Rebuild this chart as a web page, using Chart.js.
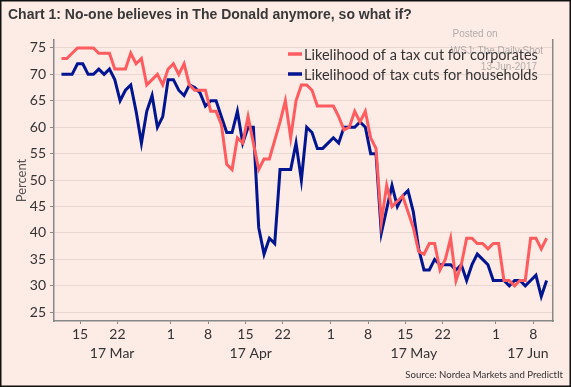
<!DOCTYPE html>
<html>
<head>
<meta charset="utf-8">
<script src="https://cdn.jsdelivr.net/npm/chart.js@4.4.0/dist/chart.umd.min.js"></script>
<style>
  html, body { margin: 0; padding: 0; background: #fdebe6; }
</style>
</head>
<body>
<canvas id="myChart" width="571" height="387"></canvas>
<script>
// daily PredictIt odds, 11 Mar 2017 .. 10 Jun 2017 (day 0 = 1 Mar)
const firstDay = 10;
const corporates = [
  73, 73, 74, 75, 75, 75, 75, 74, 74, 74,
  71, 71, 71, 74, 72, 73, 68, 69, 70, 68,
  71, 72, 70, 72, 68, 67, 67, 67, 63, 63,
  60.5, 53, 52, 58, 57, 62, 57, 52, 54, 54,
  57.5, 61, 65, 58, 65, 68, 68, 67, 64, 64,
  64, 64, 62, 59.5, 60, 63, 61, 63, 58, 56,
  42, 49, 45, 46, 47, 44, 41, 36.5, 36, 38,
  38, 33, 35, 39, 31, 34, 39, 39, 38, 38,
  37, 38, 38, 31, 31, 30, 31, 31, 39, 39,
  37, 39
];
const households = [
  70, 70, 70, 72, 72, 70, 70, 71, 70, 71,
  69, 65, 67, 68, 63, 57, 63, 66, 60, 62,
  69, 69, 67, 66, 68, 67.5, 66.5, 64, 65, 65,
  62, 59, 59, 63, 57, 60, 60, 41, 36, 39,
  38, 52, 52, 52, 57, 50, 60, 59, 56, 56,
  57, 58, 57, 60, 60, 60, 61, 60, 55, 55,
  40, 44.5, 49, 45, 47, 48, 44, 37, 33, 33,
  35, 34, 34, 34, 33, 34, 31, 34, 36, 35,
  34, 31, 31, 31, 30, 31, 31, 30, 31, 32,
  28, 31
];
const seriesNames = ['Likelihood of a tax cut for corporates', 'Likelihood of tax cuts for households'];
const tickDays = [14, 21, 31, 38, 45, 52, 61, 68, 75, 82, 92, 99];
const tickLabels = ['15', '22', '1', '8', '15', '22', '1', '8', '15', '22', '1', '8'];
const monthDays = [20, 46, 76.6, 98];
const monthLabels = ['17 Mar', '17 Apr', '17 May', '17 Jun'];
const yTicks = [25, 30, 35, 40, 45, 50, 55, 60, 65, 70, 75];

const RED = '#ff5c5f';
const BLUE = '#00158f';
const FONT = 'Lato';
const xMin = 9.1, xMax = 102.7, yMin = 23.35, yMax = 76.5;

const toPoints = arr => arr.map((v, i) => ({ x: firstDay + i + 0.5, y: v }));

const decor = {
  id: 'decor',
  beforeDraw(chart) {
    const ctx = chart.ctx;
    ctx.save();
    ctx.fillStyle = '#fdebe6';
    ctx.fillRect(0, 0, chart.width, chart.height);
    ctx.restore();
  },
  afterDraw(chart) {
    const ctx = chart.ctx;
    ctx.save();
    // title
    ctx.fillStyle = '#383838';
    ctx.font = 'bold 14px "Liberation Sans"';
    ctx.textBaseline = 'alphabetic';
    ctx.fillText('Chart 1: No-one believes in The Donald anymore, so what if?', 8, 19);

    // legend
    ctx.font = '14.5px ' + FONT;
    ctx.textBaseline = 'middle';
    const cols = [RED, BLUE];
    const rows = [54, 74];
    chart.data.datasets.forEach((ds, i) => {
      ctx.strokeStyle = cols[i];
      ctx.lineWidth = 3.5;
      ctx.beginPath();
      ctx.moveTo(288, rows[i]);
      ctx.lineTo(302, rows[i]);
      ctx.stroke();
      ctx.fillStyle = '#333';
      ctx.fillText(ds.label, 304, rows[i] + 1);
    });

    // watermark
    ctx.fillStyle = 'rgba(130,130,130,0.6)';
    ctx.font = '10px "Liberation Sans"';
    ctx.textAlign = 'center';
    ctx.fillText('Posted on', 475, 34);
    ctx.fillText('WSJ: The Daily Shot', 497, 51);
    ctx.textAlign = 'right';
    ctx.fillText('13-Jun-2017', 537, 67);

    // source
    ctx.fillStyle = '#333';
    ctx.font = '9.6px ' + FONT;
    ctx.textAlign = 'right';
    ctx.fillText('Source: Nordea Markets and PredictIt', 563, 375);

    // frame
    ctx.strokeStyle = '#111';
    ctx.lineWidth = 1.5;
    ctx.strokeRect(0.75, 0.75, chart.width - 1.5, chart.height - 1.5);
    ctx.restore();
  }
};

const ctx = document.getElementById('myChart');
new Chart(ctx, {
  type: 'line',
  data: {
    datasets: [
      { label: seriesNames[0], data: toPoints(corporates), borderColor: RED, borderWidth: 3, pointRadius: 0, tension: 0 },
      { label: seriesNames[1], data: toPoints(households), borderColor: BLUE, borderWidth: 3, pointRadius: 0, tension: 0 }
    ]
  },
  options: {
    responsive: false,
    animation: false,
    layout: { padding: { left: 0, right: 0, top: 40, bottom: 22 } },
    plugins: { legend: { display: false }, tooltip: { enabled: false } },
    scales: {
      x: {
        type: 'linear', position: 'bottom', weight: 0, min: xMin, max: xMax,
        afterBuildTicks: s => { s.ticks = tickDays.map(v => ({ value: v })); },
        afterFit: s => { s.height = 22; },
        grid: { drawOnChartArea: false, color: '#888', tickLength: 3 },
        border: { color: '#888', width: 1.5 },
        ticks: { callback: (v, i) => tickLabels[i], font: { family: FONT, size: 14 }, color: '#333', padding: 2, maxRotation: 0, autoSkip: false }
      },
      x2: {
        type: 'linear', position: 'bottom', weight: 1, min: xMin, max: xMax,
        afterBuildTicks: s => { s.ticks = monthDays.map(v => ({ value: v })); },
        afterFit: s => { s.height = 22; },
        grid: { display: false, drawTicks: false },
        border: { display: false },
        ticks: { callback: (v, i) => monthLabels[i], font: { family: FONT, size: 14 }, color: '#333', padding: 2, maxRotation: 0, autoSkip: false }
      },
      y: {
        position: 'left', min: yMin, max: yMax,
        afterBuildTicks: s => { s.ticks = yTicks.map(v => ({ value: v })); },
        afterFit: s => { s.width = 54; },
        grid: { color: '#ead7d1', tickColor: '#888', tickLength: 4 },
        border: { color: '#888', width: 1.5 },
        ticks: { font: { family: FONT, size: 14 }, color: '#333', padding: 4 },
        title: { display: true, text: 'Percent', font: { family: FONT, size: 13 }, color: '#555', padding: { top: 14, bottom: 0 } }
      },
      y2: {
        position: 'right', min: yMin, max: yMax,
        afterFit: s => { s.width = 18; },
        grid: { display: false },
        ticks: { display: false },
        border: { color: '#888', width: 1.5 }
      }
    }
  },
  plugins: [decor]
});
</script>
</body>
</html>
